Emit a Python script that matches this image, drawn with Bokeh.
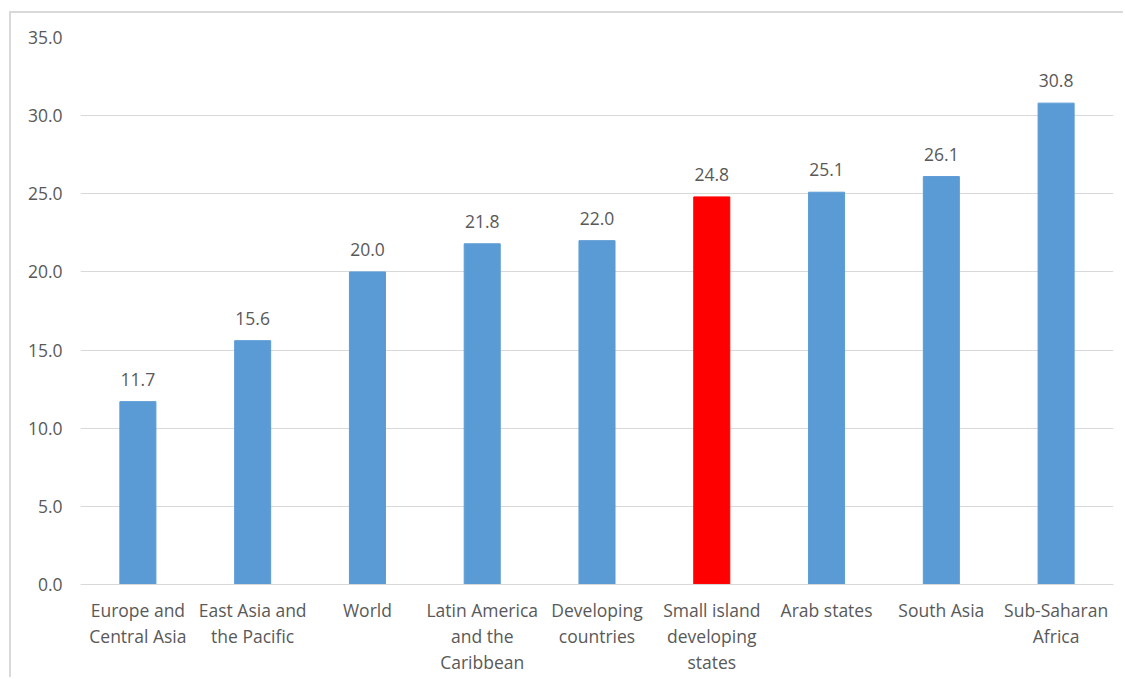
from bokeh.plotting import figure
from bokeh.models import ColumnDataSource, FixedTicker, NumeralTickFormatter, Span
from bokeh.core.properties import value
from bokeh.embed import file_html
from bokeh.resources import INLINE

categories = ["Europe and Central Asia", "East Asia and the Pacific", "World",
              "Latin America and the Caribbean", "Developing countries",
              "Small island developing states", "Arab states", "South Asia",
              "Sub-Saharan Africa"]
tick_labels = ["Europe and\nCentral Asia", "East Asia and\nthe Pacific", "World",
               "Latin America\nand the\nCaribbean", "Developing\ncountries",
               "Small island\ndeveloping\nstates", "Arab states", "South Asia",
               "Sub-Saharan\nAfrica"]
values = [11.7, 15.6, 20.0, 21.8, 22.0, 24.8, 25.1, 26.1, 30.8]
bar_colors = ["#5B9BD5", "#5B9BD5", "#5B9BD5", "#5B9BD5", "#5B9BD5",
              "#FF0000", "#5B9BD5", "#5B9BD5", "#5B9BD5"]
y_ticks = [0, 5, 10, 15, 20, 25, 30, 35]

FONT = "Open Sans"
TXT = "#595959"
FS = "17.5px"

src = ColumnDataSource(dict(cat=categories, val=values, color=bar_colors,
                            lab=["%.1f" % v for v in values],
                            tick=tick_labels, zero=[0] * len(values)))

# content origin at (11, 13) inside a 2px border
p = figure(x_range=categories, y_range=(-5.76, 35), width=1114, height=666,
           output_backend="svg", toolbar_location=None,
           min_border_left=69, min_border_right=12, min_border_top=24,
           min_border_bottom=5,
           styles={"margin-left": "9px", "margin-top": "11px",
                   "border-left": "2px solid #D9D9D9",
                   "border-top": "2px solid #D9D9D9"})

p.vbar(x="cat", top="val", width=0.314, color="color", source=src)
p.text(x="cat", y="val", text="lab", source=src, text_align="center",
       text_baseline="bottom", y_offset=-16, text_font=value(FONT),
       text_font_size=FS, text_color=TXT)
p.text(x="cat", y="zero", text="tick", source=src, text_align="center",
       text_baseline="top", y_offset=14, text_font=value(FONT),
       text_font_size=FS, text_color=TXT, text_line_height=1.08)

p.add_layout(Span(location=0, dimension="width", line_color="#D9D9D9",
                  line_width=1))

p.outline_line_color = None
p.xgrid.grid_line_color = None
p.ygrid.grid_line_color = "#D9D9D9"
p.ygrid.grid_line_width = 1

p.xaxis.visible = False
p.yaxis.ticker = FixedTicker(ticks=y_ticks)
p.yaxis.formatter = NumeralTickFormatter(format="0.0")
p.yaxis.axis_line_color = None
p.yaxis.major_tick_line_color = None
p.yaxis.minor_tick_line_color = None
p.yaxis.major_tick_out = 0
p.yaxis.major_tick_in = 0
p.yaxis.major_label_standoff = 18
p.yaxis.major_label_text_font = FONT
p.yaxis.major_label_text_font_size = FS
p.yaxis.major_label_text_color = TXT

open("out.html", "w").write(file_html(p, INLINE))
